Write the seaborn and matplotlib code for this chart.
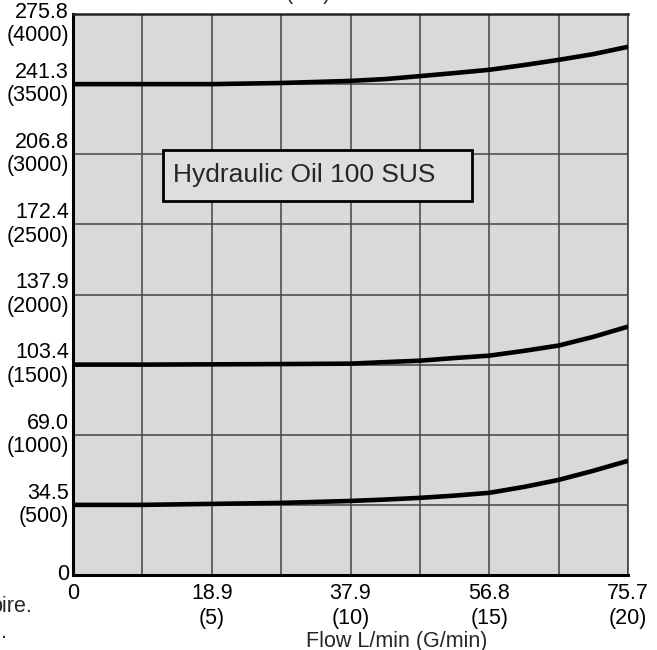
import pandas as pd
import seaborn as sns
import matplotlib.pyplot as plt
from matplotlib.patches import Rectangle
from matplotlib.transforms import ScaledTranslation

# Datos (caudal en G/min, presion en psi)
flow_gpm = [0, 2.5, 5, 7.5, 10, 11.25, 12.5, 13.75, 15, 16.25, 17.5, 18.75, 20]
curve_high = [3500, 3500, 3500, 3508, 3523, 3536, 3557, 3579, 3602, 3636, 3673, 3714, 3766]
curve_mid = [1500, 1500, 1502, 1504, 1507, 1518, 1528, 1547, 1564, 1598, 1636, 1698, 1771]
curve_low = [500, 500, 507, 514, 528, 538, 550, 566, 586, 628, 678, 743, 814]

y_ticks_psi = [0, 500, 1000, 1500, 2000, 2500, 3000, 3500, 4000]
y_tick_labels = ['0', '34.5\n(500)', '69.0\n(1000)', '103.4\n(1500)', '137.9\n(2000)',
                 '172.4\n(2500)', '206.8\n(3000)', '241.3\n(3500)', '275.8\n(4000)']
x_ticks_gpm = [0, 2.5, 5, 7.5, 10, 12.5, 15, 17.5, 20]
x_tick_labels = ['0', '', '18.9\n(5)', '', '37.9\n(10)', '', '56.8\n(15)', '', '75.7\n(20)']

n = len(flow_gpm)
df = pd.DataFrame({
    'flow': flow_gpm * 3,
    'psi': curve_high + curve_mid + curve_low,
    'curve': ['high'] * n + ['mid'] * n + ['low'] * n,
})

sns.set_style("white")
plt.rcParams['font.family'] = ['Liberation Sans', 'DejaVu Sans']

fig = plt.figure(figsize=(6.57, 6.50), dpi=100)
ax = fig.add_axes([73 / 657, 1 - 575 / 650, 555 / 657, 561 / 650])
ax.set_facecolor('#d9d9d9')

sns.lineplot(data=df, x='flow', y='psi', hue='curve', palette=['black'] * 3,
             linewidth=3.3, legend=False, ax=ax, zorder=3)
for ln in ax.lines:
    ln.set_solid_joinstyle('round')
    ln.set_solid_capstyle('butt')

ax.set_xlim(0, 20)
ax.set_ylim(0, 4000)
ax.set_xticks(x_ticks_gpm)
ax.set_xticklabels(x_tick_labels, fontsize=15.5, linespacing=1.2)
ax.set_yticks(y_ticks_psi)
ax.set_yticklabels(y_tick_labels, fontsize=15.5, linespacing=1.15, ha='right', va='center')
ax.tick_params(axis='both', length=0, colors='black')
ax.tick_params(axis='x', pad=6)
ax.tick_params(axis='y', pad=3)
# la etiqueta superior baja un poco para no salirse
top_lab = ax.get_yticklabels()[-1]
top_lab.set_transform(top_lab.get_transform() + ScaledTranslation(0, -10 / 100, fig.dpi_scale_trans))
ax.grid(True, color='#444444', linewidth=1.1, zorder=1)
ax.set_axisbelow(True)

for side in ['left', 'bottom']:
    ax.spines[side].set_linewidth(2.2)
    ax.spines[side].set_color('black')
ax.spines['top'].set_linewidth(1.8)
ax.spines['top'].set_color('#222222')
ax.spines['right'].set_linewidth(1.2)
ax.spines['right'].set_color('#444444')

ax.set_xlabel('Flow L/min (G/min)', fontsize=15.5)
ax.xaxis.set_label_coords(0.584, -0.099)
ax.set_ylabel('')

# recuadro del texto
ax.add_patch(Rectangle((3.24, 2669), 11.14, 359, facecolor='#dedede', edgecolor='black',
                       linewidth=2, zorder=4))
ax.text(3.60, 2849, 'Hydraulic Oil 100 SUS', fontsize=19, ha='left', va='center', zorder=5)

# textos recortados en el borde de la imagen original
fig.text(308 / 657, 1 + 1 / 650, '(bar)', fontsize=15.5, ha='center', va='baseline')
fig.text(32 / 657, 1 - 612 / 650, 'pire.', fontsize=15.5, ha='right', va='baseline')
fig.text(7 / 657, 1 - 638 / 650, '.', fontsize=15.5, ha='right', va='baseline')

plt.savefig('out.png', dpi=100)
